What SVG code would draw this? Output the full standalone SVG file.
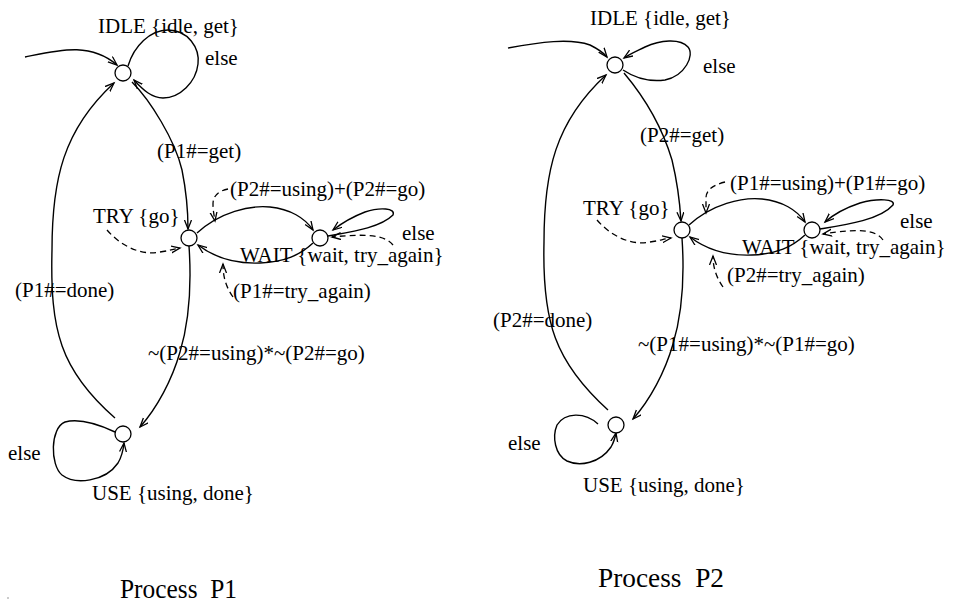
<svg xmlns="http://www.w3.org/2000/svg" width="962" height="604" viewBox="0 0 962 604">
  <style>
    .st { fill: #fff; stroke: #000; stroke-width: 1.3; }
    .e { fill: none; stroke: #000; stroke-width: 1.4; }
    .d { fill: none; stroke: #000; stroke-width: 1.3; stroke-dasharray: 6 4; }
    text { font-family: 'Liberation Serif', 'Times New Roman', Times, 'DejaVu Serif', serif; font-size: 21px; fill: #000; }
    .cap { font-size: 28px; }
  </style>
  <defs>
    <marker id="arr" markerUnits="userSpaceOnUse" markerWidth="12" markerHeight="10" refX="9" refY="4" orient="auto">
      <path d="M0,0.5 L9,4 L0,7.5" fill="none" stroke="#000" stroke-width="1.3"/>
    </marker>
  </defs>
  <rect width="962" height="604" fill="#fff"/>

  <g font-family="'Liberation Serif', 'Times New Roman', serif">
  <!-- Process P1 -->
  <g id="p1-connectors">
    <path class="e" d="M25,57 C60,50 90,42 117,65" marker-end="url(#arr)"/>
    <path class="e" d="M128,66 C134,46 150,30 168,30 C188,30 200,48 198,64 C196,82 180,98 163,98 C152,98 143,90 134,80" marker-end="url(#arr)"/>
    <path class="e" d="M132,82 C150,100 175,140 182,170 C186,190 188,210 188,229" marker-end="url(#arr)"/>
    <path class="e" d="M197,233 C220,212 250,205 270,207 C290,209 305,218 313,230" marker-end="url(#arr)"/>
    <path class="e" d="M313,243 C300,255 285,262 260,263 C235,264 215,258 198,245" marker-end="url(#arr)"/>
    <path class="e" d="M328,236 C350,232 380,228 393,215 C396,208 380,207 365,212 C352,217 342,223 333,230" marker-end="url(#arr)"/>
    <path class="e" d="M189,246 C192,290 189,322 180,352 C172,380 157,408 140,427" marker-end="url(#arr)"/>
    <path class="e" d="M115,418 C60,370 50,330 52,250 C52,180 63,130 114,83" marker-end="url(#arr)"/>
    <path class="e" d="M115,432 C100,425 80,418 65,422 C50,428 50,465 62,475 C75,485 105,482 118,463 C121,458 123,452 124,443" marker-end="url(#arr)"/>
    <path class="d" d="M228,189 C218,191 213,196 213,204 C213,210 214,215 215,221" marker-end="url(#arr)"/>
    <path class="d" d="M107,230 C120,245 140,256 160,252 C168,251 174,249 180,248" marker-end="url(#arr)"/>
    <path class="d" d="M393,245 C386,236 370,233 332,237" marker-end="url(#arr)"/>
    <path class="d" d="M233,297 C226,287 223,277 223,264" marker-end="url(#arr)"/>
  </g>
  <g id="p1-idle"><circle class="st" cx="123" cy="73" r="8"/><text x="98" y="33">IDLE {idle, get}</text></g>
  <g id="p1-try"><circle class="st" cx="189" cy="238" r="8"/><text x="93" y="223">TRY {go}</text></g>
  <g id="p1-wait"><circle class="st" cx="320" cy="238" r="8"/><text x="240" y="262">WAIT {wait, try_again}</text></g>
  <g id="p1-use"><circle class="st" cx="123" cy="434" r="8"/><text x="92" y="500">USE {using, done}</text></g>
  <g id="p1-labels">
    <text x="205" y="65">else</text>
    <text x="157" y="158">(P1#=get)</text>
    <text x="230" y="196">(P2#=using)+(P2#=go)</text>
    <text x="402" y="240">else</text>
    <text x="233" y="298">(P1#=try_again)</text>
    <text x="15" y="297">(P1#=done)</text>
    <text x="148" y="360">~(P2#=using)*~(P2#=go)</text>
    <text x="8" y="460">else</text>
    <text class="cap" x="120" y="598" textLength="117" lengthAdjust="spacingAndGlyphs" xml:space="preserve">Process  P1</text>
  </g>

  <!-- Process P2 -->
  <g id="p2-connectors">
    <path class="e" d="M508,48 C540,42 570,38 590,45 C598,49 603,52 607,57" marker-end="url(#arr)"/>
    <path class="e" d="M623,70 C635,78 650,82 665,80 C685,76 695,55 688,47 C680,38 660,40 645,47 C637,51 630,54 624,58" marker-end="url(#arr)"/>
    <path class="e" d="M624,73 C640,92 660,120 672,160 C678,185 680,205 681,221" marker-end="url(#arr)"/>
    <path class="e" d="M689,225 C712,204 742,197 762,199 C782,201 797,210 805,222" marker-end="url(#arr)"/>
    <path class="e" d="M805,235 C792,247 777,254 752,255 C727,256 707,250 690,237" marker-end="url(#arr)"/>
    <path class="e" d="M820,229 C845,225 880,220 893,205 C896,199 878,198 860,203 C845,208 834,214 825,222" marker-end="url(#arr)"/>
    <path class="e" d="M682,238 C685,282 682,314 673,344 C665,372 650,400 633,419" marker-end="url(#arr)"/>
    <path class="e" d="M608,410 C555,362 542,322 544,242 C544,172 555,122 606,75" marker-end="url(#arr)"/>
    <path class="e" d="M598,424 C585,412 565,412 557,425 C552,437 555,455 567,461 C580,467 600,463 611,447 C614,442 615,438 616,433" marker-end="url(#arr)"/>
    <path class="d" d="M725,182 C713,185 706,190 706,198 C706,203 706,208 706,213" marker-end="url(#arr)"/>
    <path class="d" d="M597,220 C610,235 630,246 650,242 C658,241 664,239 671,238" marker-end="url(#arr)"/>
    <path class="d" d="M883,240 C876,230 860,228 823,234" marker-end="url(#arr)"/>
    <path class="d" d="M723,287 C716,277 713,267 713,256" marker-end="url(#arr)"/>
  </g>
  <g id="p2-idle"><circle class="st" cx="615" cy="65" r="8"/><text x="590" y="25">IDLE {idle, get}</text></g>
  <g id="p2-try"><circle class="st" cx="682" cy="230" r="8"/><text x="583" y="215">TRY {go}</text></g>
  <g id="p2-wait"><circle class="st" cx="812" cy="230" r="8"/><text x="742" y="254">WAIT {wait, try_again}</text></g>
  <g id="p2-use"><circle class="st" cx="616" cy="425" r="8"/><text x="583" y="492">USE {using, done}</text></g>
  <g id="p2-labels">
    <text x="703" y="73">else</text>
    <text x="640" y="142">(P2#=get)</text>
    <text x="730" y="190">(P1#=using)+(P1#=go)</text>
    <text x="900" y="228">else</text>
    <text x="727" y="282">(P2#=try_again)</text>
    <text x="493" y="327">(P2#=done)</text>
    <text x="638" y="351">~(P1#=using)*~(P1#=go)</text>
    <text x="508" y="450">else</text>
    <text class="cap" x="598" y="587" textLength="126" lengthAdjust="spacingAndGlyphs" xml:space="preserve">Process  P2</text>
  </g>
  </g>

  <circle cx="8" cy="598" r="0.8" fill="#888"/>
</svg>
